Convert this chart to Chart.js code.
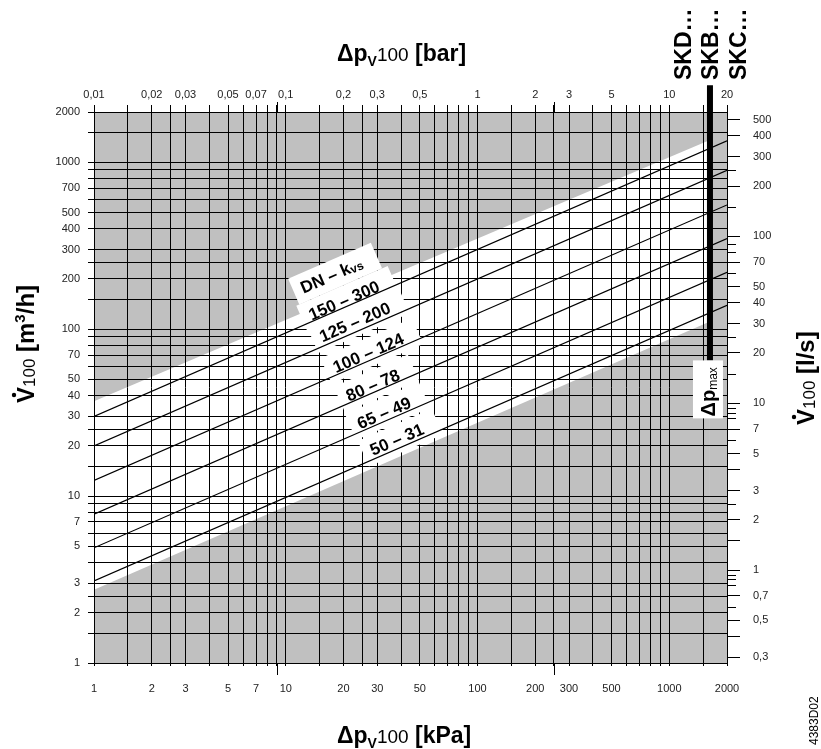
<!DOCTYPE html>
<html>
<head>
<meta charset="utf-8">
<script src="https://cdn.jsdelivr.net/npm/chart.js@4.4.1/dist/chart.umd.min.js"></script>
<style>
  html, body { margin: 0; padding: 0; background: #fff; }
  canvas { display: block; }
</style>
</head>
<body>
<canvas id="valve_chart" width="821" height="749"></canvas>
<script>
// valve sizes (DN) and their kvs values
const dnSizes = [50, 65, 80, 100, 125, 150];
const kvsValues = [31, 49, 78, 124, 200, 300];
// flow [m3/h] where each kvs line meets the left (1 kPa) and right (2000 kPa) edge
const flowAt1kPa = [3.1, 4.9, 7.8, 12.4, 20, 30];
const flowAt2000kPa = [139, 219, 349, 555, 894, 1342];

// edges of the grey zones, [kPa, m3/h]
const upperLimit = [{x: 1, y: 37}, {x: 1630, y: 1360}];
const lowerLimit = [{x: 1, y: 2.75}, {x: 1630, y: 111}];
const dpMaxKPa = 1630;
const dpMaxBar = [{x: 1630, y: 2890}, {x: 1630, y: 65}];

// axes
const gridSteps = [1, 1.5, 2, 2.5, 3, 4, 5, 6, 7, 8, 9];
const kPaLabels = [1, 2, 3, 5, 7, 10, 20, 30, 50, 100, 200, 300, 500, 1000, 2000];
const barLabels = ['0,01', '0,02', '0,03', '0,05', '0,07', '0,1', '0,2', '0,3', '0,5', '1', '2', '3', '5', '10', '20'];
const m3hLabels = [1, 2, 3, 5, 7, 10, 20, 30, 40, 50, 70, 100, 200, 300, 400, 500, 700, 1000, 2000];
const lsLabels = [0.3, 0.5, 0.7, 1, 2, 3, 5, 7, 10, 20, 30, 40, 50, 70, 100, 200, 300, 400, 500];
const lsLongTicks = [0.4, 1.5, 4];
const lsShortTicks = [0.6, 0.81, 0.88, 0.93, 2.5, 6, 8.2, 8.7, 9.3, 15, 25, 60, 80, 90, 150, 250];
const tallTicksKPa = [9, 250];

const FONT = "'Liberation Sans', Arial, sans-serif";
const GREY = '#c0c0c0';
const LABEL_SIZE = 17;

const gridValues = [1, 10, 100, 1000]
    .flatMap(d => gridSteps.map(s => s * d))
    .filter(v => v <= 2000);
const lsTicks = [...lsLabels, ...lsLongTicks, ...lsShortTicks].sort((a, b) => a - b);

const comma = v => String(v).replace('.', ',');

// where the line labels sit [kPa, m3/h]
const lineLabels = [
    {x: 37.9, y: 21.9, parts: [{t: '50 – 31'}]},
    {x: 32.5, y: 31.6, parts: [{t: '65 – 49'}]},
    {x: 28.4, y: 46.3, parts: [{t: '80 – 78'}]},
    {x: 26.9, y: 72.3, parts: [{t: '100 – 124'}]},
    {x: 22.9, y: 110.7, parts: [{t: '125 – 200'}]},
    {x: 20.1, y: 149, parts: [{t: '150 – 300'}]},
    {x: 17.3, y: 210.7, parts: [{t: 'DN – k'}, {t: 'vs', size: 12, bold: true, dy: 1}]},
];

function setFont(ctx, p, size, bold) {
    const s = p.size || size;
    const b = p.bold !== undefined ? p.bold : bold;
    ctx.font = (b ? 'bold ' : '') + s + 'px ' + FONT;
}
function richWidth(ctx, parts, size, bold) {
    let w = 0;
    for (const p of parts) { setFont(ctx, p, size, bold); w += ctx.measureText(p.t).width; }
    return w;
}
function drawRich(ctx, parts, x, y, angle, size, bold, center) {
    ctx.save();
    ctx.translate(x, y);
    ctx.rotate(angle);
    ctx.fillStyle = '#000';
    ctx.textAlign = 'left';
    ctx.textBaseline = 'alphabetic';
    const w = richWidth(ctx, parts, size, bold);
    let cx = center ? -w / 2 : 0;
    const out = [];
    for (const p of parts) {
        setFont(ctx, p, size, bold);
        const pw = ctx.measureText(p.t).width;
        ctx.fillText(p.t, cx, p.dy || 0);
        out.push({x: cx, w: pw});
        cx += pw;
    }
    ctx.restore();
    return out;
}

function lineAngle(chart) {
    const xs = chart.scales.x, ys = chart.scales.y;
    const x1 = xs.getPixelForValue(1), y1 = ys.getPixelForValue(flowAt1kPa[0]);
    const x2 = xs.getPixelForValue(2000), y2 = ys.getPixelForValue(flowAt2000kPa[0]);
    return Math.atan2(y2 - y1, x2 - x1);
}

const annotations = {
    id: 'annotations',
    beforeDatasetsDraw(chart) {
        // white boxes under the line labels hide the grid
        const ctx = chart.ctx;
        const a = lineAngle(chart);
        for (const lb of lineLabels) {
            const px = chart.scales.x.getPixelForValue(lb.x);
            const py = chart.scales.y.getPixelForValue(lb.y);
            const w = richWidth(ctx, lb.parts, LABEL_SIZE, true);
            ctx.save();
            ctx.translate(px, py);
            ctx.rotate(a);
            ctx.fillStyle = '#fff';
            ctx.fillRect(-w / 2 - 8, -14, w + 24, 28);
            ctx.restore();
        }
    },
    afterDatasetsDraw(chart) {
        const ctx = chart.ctx;
        const xs = chart.scales.x, ys = chart.scales.y, y2 = chart.scales.y2;
        const a = lineAngle(chart);
        for (const lb of lineLabels) {
            const px = xs.getPixelForValue(lb.x);
            const py = ys.getPixelForValue(lb.y);
            const c = Math.cos(a), s = Math.sin(a);
            drawRich(ctx, lb.parts, px - s * 6, py + c * 6, a, LABEL_SIZE, true, true);
        }

        // dp max box
        const bx = xs.getPixelForValue(dpMaxKPa);
        const by = ys.getPixelForValue(dpMaxBar[1].y);
        ctx.fillStyle = '#fff';
        ctx.fillRect(bx - 17, by, 30, 58);
        drawRich(ctx, [{t: 'Δp', size: 20, bold: true}, {t: 'max', size: 12, bold: false, dy: 2}],
            bx + 5, by + 56, -Math.PI / 2, 20, true, false);

        // short ticks on the l/s axis
        ctx.strokeStyle = '#000';
        ctx.lineWidth = 1;
        ctx.beginPath();
        for (const v of lsShortTicks) {
            const yy = Math.round(y2.getPixelForValue(v)) + 0.5;
            ctx.moveTo(chart.chartArea.right, yy);
            ctx.lineTo(chart.chartArea.right + 9, yy);
        }
        // longer grid marks
        for (const v of tallTicksKPa) {
            const xx = Math.round(xs.getPixelForValue(v)) + 0.5;
            ctx.moveTo(xx, chart.chartArea.top - 10);
            ctx.lineTo(xx, chart.chartArea.top);
            ctx.moveTo(xx, chart.chartArea.bottom);
            ctx.lineTo(xx, chart.chartArea.bottom + 12);
        }
        ctx.stroke();
    },
    afterDraw(chart) {
        const ctx = chart.ctx;
        const xs = chart.scales.x;
        // valve series names above the dp max bar
        const bx = xs.getPixelForValue(dpMaxKPa);
        [['SKD…', -19], ['SKB…', 8], ['SKC…', 36]].forEach(([t, dx]) => {
            drawRich(ctx, [{t}], bx + dx, 80, -Math.PI / 2, 23, true, false);
        });

        // axis titles
        const dp = (unit) => [
            {t: 'Δp', size: 23, bold: true},
            {t: 'V', size: 14, bold: true, dy: 5},
            {t: '100', size: 19, bold: false},
            {t: ' [' + unit + ']', size: 23, bold: true},
        ];
        drawRich(ctx, dp('bar'), 337, 61, 0, 23, true, false);
        drawRich(ctx, dp('kPa'), 337, 743, 0, 23, true, false);

        const flowTitle = (x, y, unit) => {
            const out = drawRich(ctx, unit, x, y, -Math.PI / 2, 24, true, false);
            // dot over the V
            ctx.fillStyle = '#000';
            ctx.beginPath();
            ctx.arc(x - 20, y - (out[0].x + out[0].w / 2), 2.2, 0, Math.PI * 2);
            ctx.fill();
        };
        flowTitle(34, 403, [
            {t: 'V'}, {t: '100', size: 17, bold: false, dy: 1},
            {t: ' [m'}, {t: '3', size: 15, dy: -9}, {t: '/h]'},
        ]);
        flowTitle(814, 425, [
            {t: 'V'}, {t: '100', size: 17, bold: false, dy: 1},
            {t: ' [l/s]'},
        ]);

        drawRich(ctx, [{t: '4383D02'}], 818, 745, -Math.PI / 2, 12, false, false);
    }
};

const tickFont = {family: FONT, size: 11};
const series = kvsValues.map((k, i) => ({
    label: 'DN ' + dnSizes[i] + ' – kvs ' + k,
    data: [{x: 1, y: flowAt1kPa[i]}, {x: 2000, y: flowAt2000kPa[i]}],
    borderColor: '#000',
    borderWidth: 1.2,
    pointRadius: 0,
    fill: false,
}));

new Chart(document.getElementById('valve_chart').getContext('2d'), {
    type: 'line',
    data: {
        datasets: [
            {label: 'upper', data: upperLimit, fill: 'end', backgroundColor: GREY,
                borderColor: 'rgba(0,0,0,0)', pointRadius: 0},
            {label: 'lower', data: lowerLimit, fill: 'start', backgroundColor: GREY,
                borderColor: 'rgba(0,0,0,0)', pointRadius: 0},
            {label: 'right', data: [{x: dpMaxKPa, y: 2000}, {x: 2000, y: 2000}], fill: 'start',
                backgroundColor: GREY, borderColor: 'rgba(0,0,0,0)', pointRadius: 0},
            ...series,
            {label: 'dp max', data: dpMaxBar, borderColor: '#000', borderWidth: 6,
                pointRadius: 0, clip: false, fill: false},
        ]
    },
    options: {
        responsive: false,
        animation: false,
        devicePixelRatio: 1,
        layout: {padding: 0},
        plugins: {
            legend: {display: false},
            tooltip: {enabled: false},
            filler: {drawTime: 'beforeDraw'},
        },
        scales: {
            x: {
                type: 'logarithmic', position: 'bottom', min: 1, max: 2000,
                afterBuildTicks: s => { s.ticks = gridValues.map(v => ({value: v})); },
                afterFit: s => { s.height = 86; },
                grid: {color: '#000', lineWidth: 1, tickLength: 3, tickColor: '#000'},
                border: {color: '#000'},
                ticks: {
                    autoSkip: false, maxRotation: 0, minRotation: 0, padding: 16,
                    color: '#222', font: tickFont,
                    callback: v => kPaLabels.includes(v) ? String(v) : '',
                },
            },
            x2: {
                type: 'logarithmic', axis: 'x', position: 'top', min: 1, max: 2000,
                afterBuildTicks: s => { s.ticks = gridValues.map(v => ({value: v})); },
                afterFit: s => { s.height = 112; },
                grid: {drawOnChartArea: false, tickLength: 7, tickColor: '#000'},
                border: {color: '#000'},
                ticks: {
                    autoSkip: false, maxRotation: 0, minRotation: 0, padding: 3,
                    color: '#222', font: tickFont,
                    callback: v => {
                        const i = kPaLabels.indexOf(v);
                        return i >= 0 ? barLabels[i] : '';
                    },
                },
            },
            y: {
                type: 'logarithmic', position: 'left', min: 1, max: 2000,
                afterBuildTicks: s => { s.ticks = gridValues.map(v => ({value: v})); },
                afterFit: s => { s.width = 94; },
                grid: {color: '#000', lineWidth: 1, tickLength: 6, tickColor: '#000'},
                border: {color: '#000'},
                ticks: {
                    autoSkip: false, padding: 8, color: '#222', font: tickFont,
                    callback: v => m3hLabels.includes(v) ? String(v) : '',
                },
            },
            y2: {
                type: 'logarithmic', position: 'right', min: 1 / 3.6, max: 2000 / 3.6,
                afterBuildTicks: s => { s.ticks = lsTicks.map(v => ({value: v})); },
                afterFit: s => { s.width = 94; },
                grid: {
                    drawOnChartArea: false, tickLength: 13,
                    tickColor: c => (c.tick && lsShortTicks.includes(c.tick.value)) ? 'rgba(0,0,0,0)' : '#000',
                },
                border: {color: '#000'},
                ticks: {
                    autoSkip: false, padding: 13, color: '#222', font: tickFont,
                    callback: v => lsLabels.includes(v) ? comma(v) : '',
                },
            },
        },
    },
    plugins: [annotations],
});
</script>
</body>
</html>
